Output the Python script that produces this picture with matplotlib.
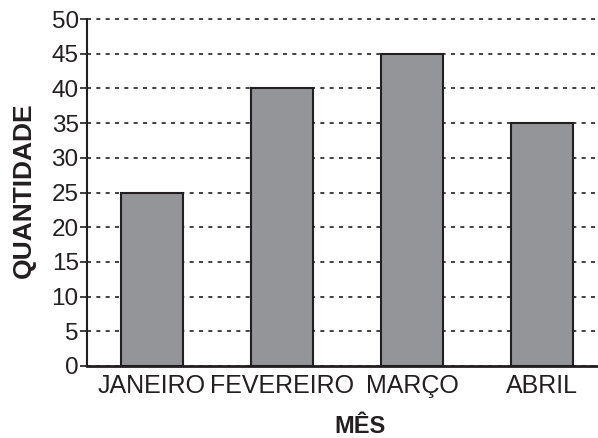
import matplotlib.pyplot as plt
import numpy as np

plt.rcParams['font.family'] = ['Liberation Sans', 'DejaVu Sans']

meses = ['JANEIRO', 'FEVEREIRO', 'MARÇO', 'ABRIL']
quantidade = [25, 40, 45, 35]
yticks = list(range(0, 51, 5))

fig = plt.figure(figsize=(5.98, 4.38), dpi=100)
ax = fig.add_axes([87 / 598, 72 / 438, 511 / 598, 347 / 438])

x = np.arange(len(meses))
ax.bar(x, quantidade, width=0.477, color='#939598', edgecolor='#231f20',
       linewidth=1.5, zorder=3)

ax.set_xlim(-0.5, 3.43)
ax.set_ylim(0, 50)
ax.set_yticks(yticks)
ax.set_xticks(x)
ax.set_xticklabels(meses, fontsize=18, color='#231f20')
ax.tick_params(axis='y', labelsize=17.5, length=5, width=1.2, colors='#231f20', pad=1)
ax.tick_params(axis='x', length=0, pad=6)

ax.yaxis.grid(True, linestyle=(0, (2.4, 3.2)), color='#231f20', linewidth=1.2, zorder=0)
ax.set_axisbelow(True)
# keep the top grid line (at 50) fully visible
for gl in ax.get_ygridlines():
    gl.set_clip_on(False)

for s in ['top', 'right']:
    ax.spines[s].set_visible(False)
ax.spines['left'].set_linewidth(1.5)
ax.spines['bottom'].set_linewidth(2)
ax.spines['left'].set_color('#231f20')
ax.spines['bottom'].set_color('#231f20')

ax.set_xlabel('MÊS', fontsize=17, fontweight='bold', color='#231f20', va='center')
ax.xaxis.set_label_coords(0.534, -0.173)
ax.set_ylabel('QUANTIDADE', fontsize=19, fontweight='bold', color='#231f20',
              va='center', ha='center')
ax.yaxis.set_label_coords(-0.123, 0.507)

fig.savefig('out.png', dpi=100)
